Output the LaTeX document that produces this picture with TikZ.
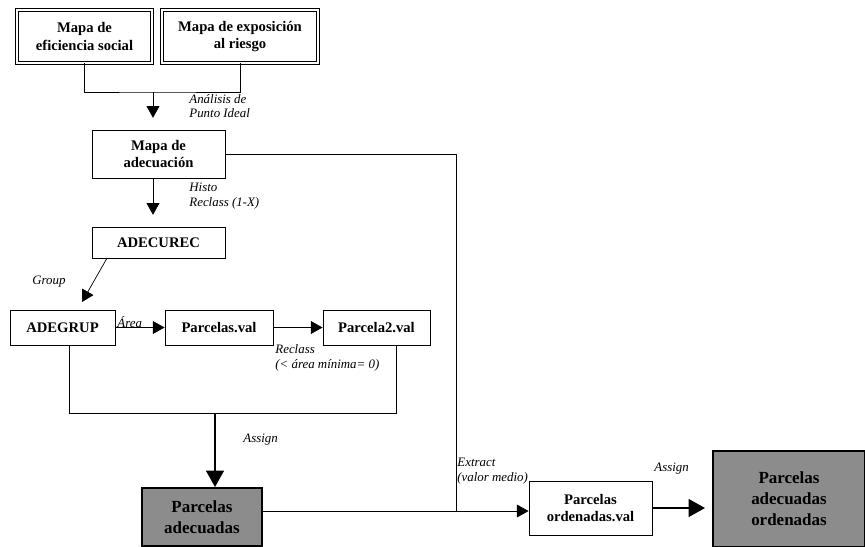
\documentclass[tikz,border=0pt]{standalone}
\usepackage{fontspec}
\setmainfont{Liberation Serif}
\usetikzlibrary{arrows.meta,positioning}
\definecolor{scan-gray}{HTML}{8C8C8C}

\begin{document}
\begin{tikzpicture}[x=0.03cm, y=-0.03cm,
    caja/.style={draw, line width=0.8pt, align=center, inner sep=2pt, font=\fontsize{12.5}{15}\selectfont\bfseries},
    cajadoble/.style={caja, double, double distance=1.3pt},
    sombra/.style={caja, line width=1.6pt, fill=scan-gray, font=\fontsize{14.5}{18}\selectfont\bfseries},
    etiq/.style={align=left, anchor=west, inner sep=1pt, font=\fontsize{11}{12.5}\selectfont\itshape},
    linea/.style={line width=0.6pt},
    flecha/.style={line width=0.6pt, -{Triangle[width=11pt,length=10pt]}},
    flechagruesa/.style={line width=2.2pt, -{Triangle[width=15pt,length=14pt]}}]
    \useasboundingbox (0,0) rectangle (865,546);
    % mapas de partida
    \node[cajadoble, minimum width=4.05cm, minimum height=1.59cm] (efic) at (84.5,36.5) {Mapa de\\eficiencia social};
    \node[cajadoble, minimum width=4.68cm, minimum height=1.59cm] (riesgo) at (240,36.5) {Mapa de exposición\\al riesgo};
    \node[caja, minimum width=3.99cm, minimum height=1.44cm] (adec) at (158.5,154) {Mapa de\\adecuación};
    \node[caja, minimum width=3.99cm, minimum height=0.93cm] (adecurec) at (158.5,242.5) {ADECUREC};
    % parcelas
    \node[caja, minimum width=3.15cm, minimum height=1.05cm] (adegrup) at (62.5,327.5) {ADEGRUP};
    \node[caja, minimum width=3.24cm, minimum height=1.05cm] (parc) at (219,327.5) {Parcelas.val};
    \node[caja, minimum width=3.21cm, minimum height=1.05cm] (parc2) at (376.5,327.5) {Parcela2.val};
    \node[sombra, minimum width=3.6cm, minimum height=1.74cm] (padec) at (202,517) {Parcelas\\adecuadas};
    \node[caja, minimum width=3.69cm, minimum height=1.62cm] (pord) at (590.5,508) {Parcelas\\ordenadas.val};
    \node[sombra, minimum width=4.56cm, minimum height=2.88cm] (pfinal) at (789,499) {Parcelas\\adecuadas\\ordenadas};

    \coordinate (j1) at (153,92);
    \coordinate (g1) at (82,302);
    \coordinate (j2) at (215,413);
    \coordinate (j3) at (456,511);

    \draw[linea] (efic.south) |- (j1) -| (riesgo.south);
    \draw[flecha, shorten >=10pt] (j1) -- (j1 |- adec.north);
    \draw[flecha, shorten >=10pt] (adec.south -| j1) -- (adecurec.north -| j1);
    \draw[flecha] ([xshift=-1.55cm]adecurec.south) -- (g1);
    \draw[flecha] (adegrup) -- (parc);
    \draw[flecha] (parc) -- (parc2);
    \draw[linea] ([xshift=0.2cm]adegrup.south) |- (j2) -| ([xshift=0.6cm]parc2.south);
    \draw[flechagruesa] (j2) -- (j2 |- padec.north);
    \draw[linea] (adec.east) -| (j3);
    \draw[flecha] (j3 -| padec.east) -- (j3 -| pord.west);
    \draw[flechagruesa, shorten >=6pt] (pord.east) -- (pord.east -| pfinal.west);

    % etiquetas
    \node[etiq] (l1) at (188,106) {Análisis de\\Punto Ideal};
    \node[etiq] (l2) at (188,196) {Histo\\Reclass (1-X)};
    \node[etiq] (l3) at (31,282) {Group};
    \node[etiq] (l4) at (116,322) {Área};
    \node[etiq] (l5) at (274,358) {Reclass\\(< área mínima= 0)};
    \node[etiq] (l6) at (242,440) {Assign};
    \node[etiq] (l7) at (456,471) {Extract\\(valor medio)};
    \node[etiq] (l8) at (653,469) {Assign};
\end{tikzpicture}
\end{document}
